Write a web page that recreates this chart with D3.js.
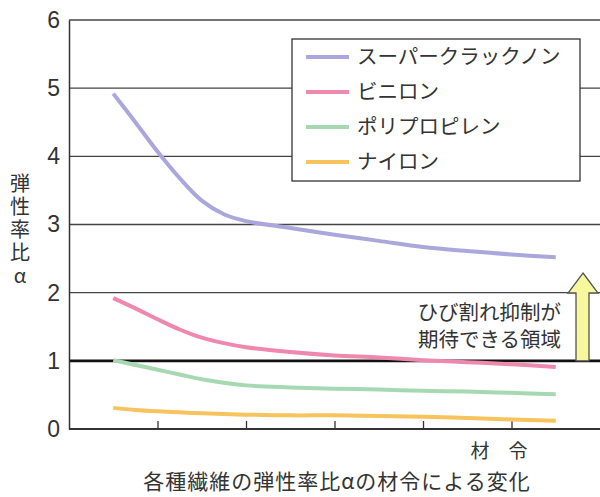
<!DOCTYPE html>
<html>
<head>
<meta charset="utf-8">
<script src="https://cdn.jsdelivr.net/npm/d3@7"></script>
<style>
  body { margin: 0; background: #fff; }
  text { font-family: "Noto Sans CJK JP", "Noto Sans", sans-serif; fill: #333; }
</style>
</head>
<body>
<div id="chart"></div>
<script>
// ===========Data
var ages = [0.5, 0.75, 1.0, 1.25, 1.5, 1.75, 2.0, 2.5, 3.0, 3.5, 4.0, 4.5, 5.0, 5.5];
var superCrack = [4.92, 4.50, 4.07, 3.68, 3.35, 3.15, 3.05, 2.95, 2.85, 2.76, 2.67, 2.61, 2.56, 2.52];
var vinylon = [1.92, 1.77, 1.61, 1.46, 1.34, 1.26, 1.20, 1.13, 1.08, 1.05, 1.01, 0.98, 0.95, 0.91];
var polypro = [1.01, 0.94, 0.87, 0.80, 0.73, 0.68, 0.64, 0.61, 0.59, 0.58, 0.56, 0.55, 0.53, 0.51];
var nylon = [0.31, 0.28, 0.26, 0.245, 0.23, 0.22, 0.21, 0.20, 0.20, 0.19, 0.18, 0.16, 0.14, 0.12];

var seriesNames = ["スーパークラックノン", "ビニロン", "ポリプロピレン", "ナイロン"];
var seriesColors = ["#aaa7dc", "#ee88ae", "#a6d9b2", "#f6c35c"];
var seriesValues = [superCrack, vinylon, polypro, nylon];

var yTicks = [0, 1, 2, 3, 4, 5, 6];
var xTicks = [1, 2, 3, 4, 5];

// ===========Size
var svgWidth = 600;
var svgHeight = 497;

var svg = d3.select("#chart").append("svg")
    .attr("width", svgWidth)
    .attr("height", svgHeight);

var xScale = d3.scaleLinear().domain([0, 6]).range([69, 600]);
var yScale = d3.scaleLinear().domain([0, 6]).range([429, 20]);

// ===========Grid lines
svg.append("g").selectAll("line")
    .data(yTicks.filter(d => d > 0))
    .enter()
    .append("line")
    .attr("x1", xScale(0))
    .attr("x2", xScale(6))
    .attr("y1", d => yScale(d))
    .attr("y2", d => yScale(d))
    .attr("stroke", d => d === 1 ? "#111" : "#444")
    .attr("stroke-width", d => d === 1 ? 2.6 : 1.3);

// ===========Axes
var leftAxis = d3.axisLeft(yScale).tickValues(yTicks).tickSize(0).tickPadding(9).tickFormat(d3.format("d"));
var yAxis = svg.append("g")
    .attr("transform", `translate(${xScale(0)}, 0)`)
    .call(leftAxis);
yAxis.select(".domain").attr("stroke", "#333").attr("stroke-width", 1.5);
yAxis.selectAll("text")
    .attr("font-size", "23px")
    .attr("fill", "#333")
    .style("font-family", "'Liberation Sans', 'DejaVu Sans', sans-serif");

var bottomAxis = d3.axisTop(xScale).tickValues(xTicks).tickSize(8).tickFormat("");
var xAxis = svg.append("g")
    .attr("transform", `translate(0, ${yScale(0)})`)
    .call(bottomAxis);
xAxis.select(".domain").remove();
xAxis.selectAll("line").attr("stroke", "#333").attr("stroke-width", 1.3);
svg.append("line")
    .attr("x1", xScale(0)).attr("x2", xScale(6))
    .attr("y1", yScale(0)).attr("y2", yScale(0))
    .attr("stroke", "#333").attr("stroke-width", 1.8);

// ===========Lines
var line = d3.line()
    .x((d, i) => xScale(ages[i]))
    .y(d => yScale(d))
    .curve(d3.curveCatmullRom.alpha(0.5));

svg.append("g").selectAll("path")
    .data(seriesValues)
    .enter()
    .append("path")
    .attr("d", d => line(d))
    .attr("fill", "none")
    .attr("stroke", (d, i) => seriesColors[i])
    .attr("stroke-width", 4)
    .attr("stroke-linecap", "butt");

// ===========Legend
var legend = svg.append("g");
legend.append("rect")
    .attr("x", 292).attr("y", 39)
    .attr("width", 288).attr("height", 142)
    .attr("fill", "#fff")
    .attr("stroke", "#333")
    .attr("stroke-width", 1.3);

var legendItems = legend.selectAll("g.item")
    .data(seriesNames)
    .enter()
    .append("g")
    .attr("transform", (d, i) => `translate(0, ${57 + i * 35})`);

legendItems.append("line")
    .attr("x1", 306).attr("x2", 349)
    .attr("y1", 0).attr("y2", 0)
    .attr("stroke", (d, i) => seriesColors[i])
    .attr("stroke-width", 4);

legendItems.append("text")
    .attr("x", 357)
    .attr("y", 0)
    .attr("dy", "0.36em")
    .attr("font-size", "20.5px")
    .text(d => d);

// ===========Arrow for the crack control region
var arrowPts = [[583, 273], [598, 293], [589, 293], [589, yScale(1)], [576, yScale(1)], [576, 293], [568, 293]];
svg.append("path")
    .attr("d", d3.line()(arrowPts) + "Z")
    .attr("fill", "#f7f79e")
    .attr("stroke", "#555")
    .attr("stroke-width", 1.3);

svg.append("text")
    .attr("x", 561).attr("y", 313)
    .attr("dy", "0.36em")
    .attr("text-anchor", "end")
    .attr("font-size", "20.5px")
    .text("ひび割れ抑制が");
svg.append("text")
    .attr("x", 561).attr("y", 340)
    .attr("dy", "0.36em")
    .attr("text-anchor", "end")
    .attr("font-size", "20.5px")
    .text("期待できる領域");

// ===========Axis titles (vertical)
svg.append("text")
    .attr("x", 20)
    .attr("y", 173)
    .attr("font-size", "20px")
    .style("writing-mode", "vertical-rl")
    .style("text-orientation", "upright")
    .style("letter-spacing", "3px")
    .text("弾性率比α");

svg.append("text")
    .attr("x", 499).attr("y", 451)
    .attr("dy", "0.36em")
    .attr("text-anchor", "middle")
    .attr("font-size", "19px")
    .text("材　令");

svg.append("text")
    .attr("x", 337).attr("y", 481)
    .attr("dy", "0.36em")
    .attr("text-anchor", "middle")
    .attr("font-size", "21px")
    .style("letter-spacing", "1px")
    .text("各種繊維の弾性率比αの材令による変化");
</script>
</body>
</html>
